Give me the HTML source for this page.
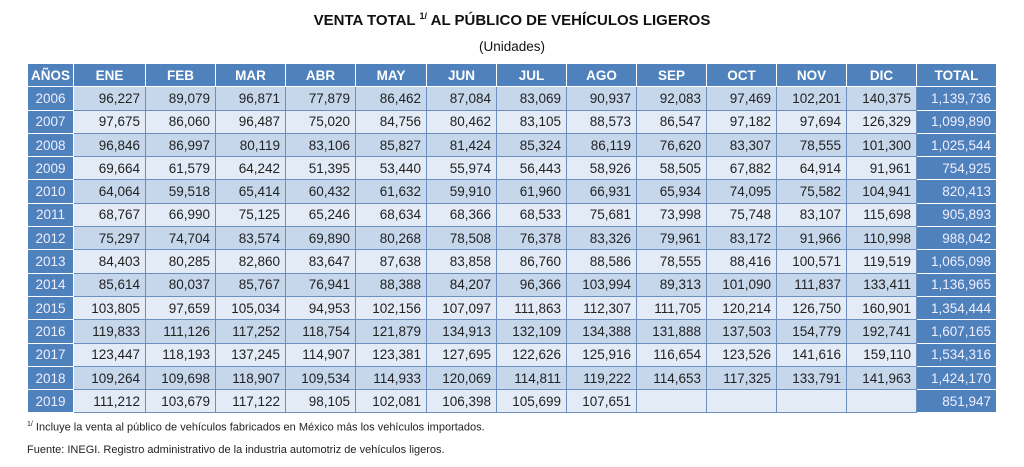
<!DOCTYPE html><html><head><meta charset="utf-8"><style>
body{margin:0;width:1024px;height:467px;background:#fff;font-family:"Liberation Sans",sans-serif;position:relative;overflow:hidden}
.t{position:absolute;left:0;width:1024px;text-align:center;color:#111}
table{position:absolute;left:27px;top:63px;border-collapse:collapse;table-layout:fixed}
td,th{height:22.3px;padding:0 5px 0 0;font-size:13.5px;text-align:right;border:1px solid #6d8fbf;color:#222;white-space:nowrap}
th{background:#4f81bd;color:#fff;text-align:center;padding:0;border:1px solid #fff;font-size:13.5px}
td.y{background:#4f81bd;color:#eef;text-align:center;padding:0;border-color:#fff}
td.tot{background:#4f81bd;color:#eef;border-color:#fff}
tr.d td{background:#c6d7ec}tr.l td{background:#e3ebf6}
tr.d td.y,tr.l td.y,tr.d td.tot,tr.l td.tot{background:#4f81bd}
.f{position:absolute;left:27px;font-size:11px;color:#222}
</style></head><body>
<div class="t" style="top:11px;font-size:15px;font-weight:bold">VENTA TOTAL <sup style="font-size:9px">1/</sup> AL PÚBLICO DE VEHÍCULOS LIGEROS</div>
<div class="t" style="top:39px;font-size:13.5px">(Unidades)</div>
<table>
<colgroup><col style="width:46px"><col style="width:72px"><col style="width:70px"><col style="width:70px"><col style="width:70px"><col style="width:71px"><col style="width:70px"><col style="width:70px"><col style="width:70px"><col style="width:70px"><col style="width:70px"><col style="width:70px"><col style="width:70px"><col style="width:80px"></colgroup>
<tr><th>AÑOS</th><th>ENE</th><th>FEB</th><th>MAR</th><th>ABR</th><th>MAY</th><th>JUN</th><th>JUL</th><th>AGO</th><th>SEP</th><th>OCT</th><th>NOV</th><th>DIC</th><th>TOTAL</th></tr>
<tr class="d"><td class="y">2006</td><td>96,227</td><td>89,079</td><td>96,871</td><td>77,879</td><td>86,462</td><td>87,084</td><td>83,069</td><td>90,937</td><td>92,083</td><td>97,469</td><td>102,201</td><td>140,375</td><td class="tot">1,139,736</td></tr>
<tr class="l"><td class="y">2007</td><td>97,675</td><td>86,060</td><td>96,487</td><td>75,020</td><td>84,756</td><td>80,462</td><td>83,105</td><td>88,573</td><td>86,547</td><td>97,182</td><td>97,694</td><td>126,329</td><td class="tot">1,099,890</td></tr>
<tr class="d"><td class="y">2008</td><td>96,846</td><td>86,997</td><td>80,119</td><td>83,106</td><td>85,827</td><td>81,424</td><td>85,324</td><td>86,119</td><td>76,620</td><td>83,307</td><td>78,555</td><td>101,300</td><td class="tot">1,025,544</td></tr>
<tr class="l"><td class="y">2009</td><td>69,664</td><td>61,579</td><td>64,242</td><td>51,395</td><td>53,440</td><td>55,974</td><td>56,443</td><td>58,926</td><td>58,505</td><td>67,882</td><td>64,914</td><td>91,961</td><td class="tot">754,925</td></tr>
<tr class="d"><td class="y">2010</td><td>64,064</td><td>59,518</td><td>65,414</td><td>60,432</td><td>61,632</td><td>59,910</td><td>61,960</td><td>66,931</td><td>65,934</td><td>74,095</td><td>75,582</td><td>104,941</td><td class="tot">820,413</td></tr>
<tr class="l"><td class="y">2011</td><td>68,767</td><td>66,990</td><td>75,125</td><td>65,246</td><td>68,634</td><td>68,366</td><td>68,533</td><td>75,681</td><td>73,998</td><td>75,748</td><td>83,107</td><td>115,698</td><td class="tot">905,893</td></tr>
<tr class="d"><td class="y">2012</td><td>75,297</td><td>74,704</td><td>83,574</td><td>69,890</td><td>80,268</td><td>78,508</td><td>76,378</td><td>83,326</td><td>79,961</td><td>83,172</td><td>91,966</td><td>110,998</td><td class="tot">988,042</td></tr>
<tr class="l"><td class="y">2013</td><td>84,403</td><td>80,285</td><td>82,860</td><td>83,647</td><td>87,638</td><td>83,858</td><td>86,760</td><td>88,586</td><td>78,555</td><td>88,416</td><td>100,571</td><td>119,519</td><td class="tot">1,065,098</td></tr>
<tr class="d"><td class="y">2014</td><td>85,614</td><td>80,037</td><td>85,767</td><td>76,941</td><td>88,388</td><td>84,207</td><td>96,366</td><td>103,994</td><td>89,313</td><td>101,090</td><td>111,837</td><td>133,411</td><td class="tot">1,136,965</td></tr>
<tr class="l"><td class="y">2015</td><td>103,805</td><td>97,659</td><td>105,034</td><td>94,953</td><td>102,156</td><td>107,097</td><td>111,863</td><td>112,307</td><td>111,705</td><td>120,214</td><td>126,750</td><td>160,901</td><td class="tot">1,354,444</td></tr>
<tr class="d"><td class="y">2016</td><td>119,833</td><td>111,126</td><td>117,252</td><td>118,754</td><td>121,879</td><td>134,913</td><td>132,109</td><td>134,388</td><td>131,888</td><td>137,503</td><td>154,779</td><td>192,741</td><td class="tot">1,607,165</td></tr>
<tr class="l"><td class="y">2017</td><td>123,447</td><td>118,193</td><td>137,245</td><td>114,907</td><td>123,381</td><td>127,695</td><td>122,626</td><td>125,916</td><td>116,654</td><td>123,526</td><td>141,616</td><td>159,110</td><td class="tot">1,534,316</td></tr>
<tr class="d"><td class="y">2018</td><td>109,264</td><td>109,698</td><td>118,907</td><td>109,534</td><td>114,933</td><td>120,069</td><td>114,811</td><td>119,222</td><td>114,653</td><td>117,325</td><td>133,791</td><td>141,963</td><td class="tot">1,424,170</td></tr>
<tr class="l"><td class="y">2019</td><td>111,212</td><td>103,679</td><td>117,122</td><td>98,105</td><td>102,081</td><td>106,398</td><td>105,699</td><td>107,651</td><td></td><td></td><td></td><td></td><td class="tot">851,947</td></tr>
</table>
<div class="f" style="top:421px"><sup style="font-size:7px">1/</sup> Incluye la venta al público de vehículos fabricados en México más los vehículos importados.</div>
<div class="f" style="top:444px">Fuente: INEGI. Registro administrativo de la industria automotriz de vehículos ligeros.</div>
</body></html>
